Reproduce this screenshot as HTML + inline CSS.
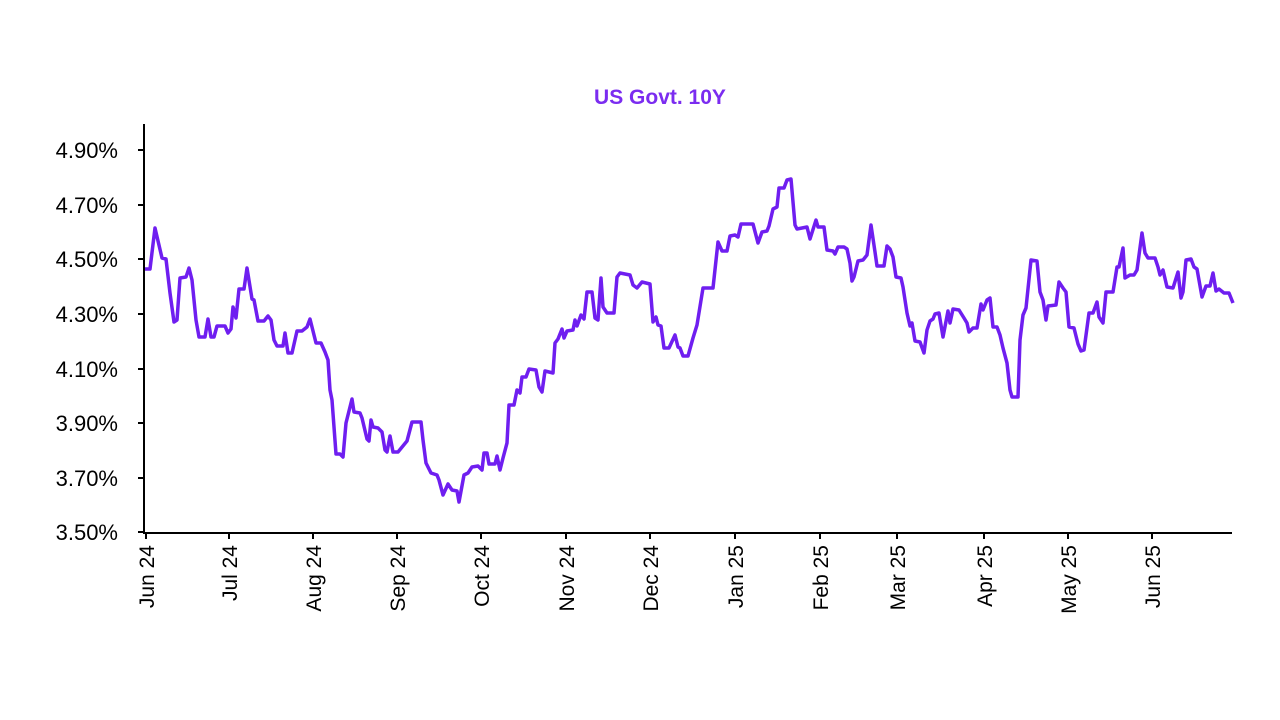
<!DOCTYPE html>
<html><head><meta charset="utf-8"><style>body{margin:0;background:#fff}svg{display:block}</style></head>
<body>
<svg width="1280" height="720" viewBox="0 0 1280 720" xmlns="http://www.w3.org/2000/svg" font-family="Liberation Sans, Arial, sans-serif">
<rect width="1280" height="720" fill="#fff"/>
<text x="660" y="104" text-anchor="middle" font-size="21" font-weight="bold" fill="#7b2cf0">US Govt. 10Y</text>
<g stroke="#000" stroke-width="2">
<line x1="144" y1="124" x2="144" y2="533"/>
<line x1="143" y1="533" x2="1232" y2="533"/>
<line x1="138" y1="150" x2="144" y2="150"/><line x1="138" y1="205" x2="144" y2="205"/><line x1="138" y1="259" x2="144" y2="259"/><line x1="138" y1="314" x2="144" y2="314"/><line x1="138" y1="369" x2="144" y2="369"/><line x1="138" y1="423" x2="144" y2="423"/><line x1="138" y1="478" x2="144" y2="478"/><line x1="138" y1="532" x2="144" y2="532"/>
<line x1="146" y1="533" x2="146" y2="539"/><line x1="229" y1="533" x2="229" y2="539"/><line x1="313" y1="533" x2="313" y2="539"/><line x1="397" y1="533" x2="397" y2="539"/><line x1="481" y1="533" x2="481" y2="539"/><line x1="566" y1="533" x2="566" y2="539"/><line x1="650" y1="533" x2="650" y2="539"/><line x1="735" y1="533" x2="735" y2="539"/><line x1="820" y1="533" x2="820" y2="539"/><line x1="897" y1="533" x2="897" y2="539"/><line x1="984" y1="533" x2="984" y2="539"/><line x1="1068" y1="533" x2="1068" y2="539"/><line x1="1152" y1="533" x2="1152" y2="539"/>
</g>
<g font-size="22" text-anchor="end" fill="#000">
<text x="118" y="158">4.90%</text><text x="118" y="213">4.70%</text><text x="118" y="267">4.50%</text><text x="118" y="322">4.30%</text><text x="118" y="377">4.10%</text><text x="118" y="431">3.90%</text><text x="118" y="486">3.70%</text><text x="118" y="540">3.50%</text>
</g>
<g font-size="21" text-anchor="end" fill="#000">
<text transform="translate(154,545) rotate(-90)">Jun 24</text>
<text transform="translate(237,545) rotate(-90)">Jul 24</text>
<text transform="translate(321,545) rotate(-90)">Aug 24</text>
<text transform="translate(405,545) rotate(-90)">Sep 24</text>
<text transform="translate(489,545) rotate(-90)">Oct 24</text>
<text transform="translate(574,545) rotate(-90)">Nov 24</text>
<text transform="translate(658,545) rotate(-90)">Dec 24</text>
<text transform="translate(743,545) rotate(-90)">Jan 25</text>
<text transform="translate(828,545) rotate(-90)">Feb 25</text>
<text transform="translate(905,545) rotate(-90)">Mar 25</text>
<text transform="translate(992,545) rotate(-90)">Apr 25</text>
<text transform="translate(1076,545) rotate(-90)">May 25</text>
<text transform="translate(1160,545) rotate(-90)">Jun 25</text>
</g>
<polyline fill="none" stroke="#6f1ef0" stroke-width="3.5" stroke-linejoin="round" points="145,269 150,269 155,228 162,258 166,259 170,293 174,322 177,320 180,278 186,277 189,268 192,280 196,320 199,337 205,337 208,319 211,337 214,337 217,326 225,326 228,333 231,329 233,307 236,318 239,289 244,289 247,268 252,299 254,300 258,321 264,321 268,316 271,320 274,340 277,346 283,346 285,333 288,353 292,353 297,331 302,331 307,327 310,319 316,343 321,343 325,352 328,360 330,390 332,400 336,454 340,454 343,457 346,423 352,399 354,412 360,413 362,418 367,439 369,441 371,420 373,427 378,428 382,432 385,450 387,452 390,436 393,452 398,452 407,441 412,422 421,422 423,440 426,463 431,473 437,475 439,480 443,495 448,484 452,490 457,491 459,502 464,475 468,473 472,467 478,466 482,470 484,453 487,453 489,464 495,464 497,456 500,470 503,458 507,443 509,405 514,405 517,390 520,393 522,377 526,377 529,369 536,370 539,387 542,392 545,371 553,373 555,343 558,339 562,329 564,338 567,331 573,330 575,320 577,326 581,315 584,319 587,292 592,292 595,318 598,320 601,278 603,307 607,313 614,313 617,277 620,273 630,275 633,285 637,288 642,282 646,283 650,284 653,322 656,317 658,325 661,326 664,348 669,348 675,335 678,347 680,348 683,356 688,356 693,338 697,325 703,288 713,288 718,242 722,251 727,251 730,236 735,235 738,237 741,224 753,224 758,243 762,232 767,231 769,226 773,209 777,207 779,188 784,188 787,180 791,179 795,225 797,229 807,227 810,239 816,220 818,227 824,227 827,250 833,251 835,254 838,247 844,247 847,249 850,263 852,281 854,277 858,261 863,260 867,255 871,225 875,252 877,266 884,266 887,246 890,249 893,257 896,277 901,278 903,287 907,313 910,326 912,323 915,341 920,342 924,353 927,330 930,321 933,319 935,314 939,313 943,337 948,311 950,323 953,309 959,310 964,318 967,323 969,332 973,328 977,328 981,304 983,310 987,300 990,298 993,327 997,327 1000,335 1003,348 1007,363 1010,390 1012,397 1018,397 1020,340 1023,315 1026,308 1031,260 1037,261 1040,292 1043,300 1046,320 1048,306 1056,305 1059,282 1063,288 1066,292 1069,327 1074,328 1078,344 1081,351 1084,350 1089,313 1093,313 1097,302 1099,317 1103,323 1106,292 1113,292 1117,267 1119,267 1123,248 1125,278 1130,275 1134,275 1137,270 1142,233 1145,253 1148,258 1155,258 1158,267 1160,275 1163,270 1167,287 1173,288 1178,272 1181,298 1183,292 1186,260 1191,259 1194,267 1197,269 1202,297 1206,286 1210,286 1213,273 1216,291 1219,289 1224,293 1229,293 1233,303"/>
</svg>
</body></html>
